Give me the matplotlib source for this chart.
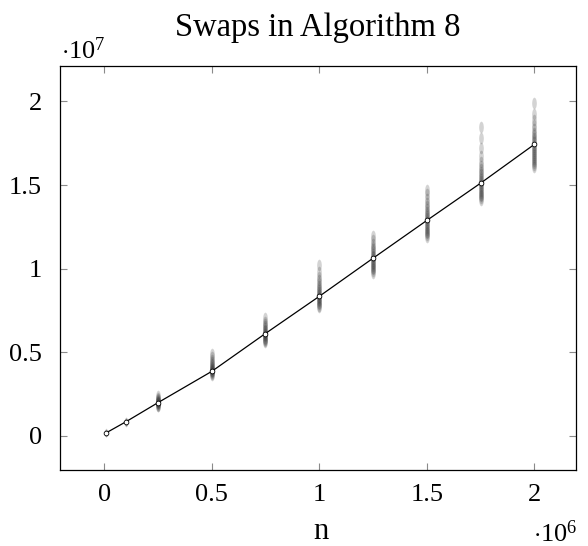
import matplotlib
matplotlib.use("Agg")
import matplotlib.pyplot as plt
from matplotlib.path import Path
import numpy as np

# problem sizes (units of 1e6) and mean swap counts (units of 1e7)
n_values = [0.01, 0.1, 0.25, 0.5, 0.75, 1.0, 1.25, 1.5, 1.75, 2.0]
mean_swaps = [0.018, 0.083, 0.198, 0.385, 0.612, 0.834, 1.062, 1.288, 1.511, 1.743]

# individual runs per problem size (units of 1e7)
runs_0 = [0.016, 0.017, 0.018, 0.019, 0.020]
runs_1 = [0.077, 0.079, 0.081, 0.083, 0.085, 0.087, 0.090]
runs_2 = [0.176, 0.181, 0.186, 0.190, 0.194, 0.197, 0.201, 0.205, 0.209,
          0.214, 0.220, 0.228, 0.237]
runs_3 = [0.365, 0.371, 0.376, 0.381, 0.385, 0.390, 0.395, 0.401, 0.407,
          0.414, 0.422, 0.431, 0.442, 0.455, 0.470, 0.488]
runs_4 = [0.560, 0.567, 0.574, 0.581, 0.588, 0.595, 0.602, 0.609, 0.617,
          0.625, 0.634, 0.644, 0.655, 0.668, 0.683, 0.702]
runs_5 = [0.768, 0.777, 0.786, 0.795, 0.804, 0.813, 0.822, 0.831, 0.840,
          0.850, 0.860, 0.871, 0.883, 0.896, 0.912, 0.930, 0.952, 0.982, 1.020]
runs_6 = [0.975, 0.985, 0.995, 1.005, 1.015, 1.025, 1.035, 1.045, 1.056,
          1.067, 1.078, 1.090, 1.103, 1.117, 1.132, 1.150, 1.172, 1.195]
runs_7 = [1.190, 1.200, 1.211, 1.222, 1.233, 1.244, 1.255, 1.266, 1.277,
          1.289, 1.301, 1.313, 1.326, 1.340, 1.355, 1.372, 1.392, 1.415, 1.445, 1.470]
runs_8 = [1.410, 1.421, 1.432, 1.443, 1.454, 1.465, 1.476, 1.488, 1.500,
          1.512, 1.524, 1.537, 1.550, 1.564, 1.579, 1.596, 1.615, 1.640,
          1.675, 1.720, 1.780, 1.850]
runs_9 = [1.610, 1.622, 1.634, 1.646, 1.658, 1.670, 1.682, 1.694, 1.706,
          1.718, 1.730, 1.742, 1.755, 1.768, 1.782, 1.797, 1.814, 1.834,
          1.858, 1.888, 1.925, 1.990]
all_runs = [runs_0, runs_1, runs_2, runs_3, runs_4,
            runs_5, runs_6, runs_7, runs_8, runs_9]

x_ticks = [0, 0.5, 1, 1.5, 2]
x_tick_labels = ["0", "0.5", "1", "1.5", "2"]
y_ticks = [0, 0.5, 1, 1.5, 2]
y_tick_labels = ["0", "0.5", "1", "1.5", "2"]

serif = "Liberation Serif"
plt.rcParams["font.family"] = [serif, "DejaVu Serif"]
plt.rcParams["mathtext.fontset"] = "custom"
plt.rcParams["mathtext.rm"] = serif
plt.rcParams["mathtext.it"] = serif + ":italic"

fig = plt.figure(figsize=(5.88, 5.46), dpi=100)
ax = fig.add_axes([0.102, 0.139, 0.878, 0.741])

# tall soft marker so overlapping runs blend into a vertical smear
ell = Path.unit_circle()
verts = ell.vertices * np.array([0.4, 1.0])
run_marker = Path(verts, ell.codes)

for xv, runs in zip(n_values[2:], all_runs[2:]):
    ax.scatter([xv] * len(runs), runs, marker=run_marker, s=70,
               color="#3a3a3a", alpha=0.22, linewidths=0, zorder=2)
for xv, runs in zip(n_values[:2], all_runs[:2]):
    ax.scatter([xv] * len(runs), runs, marker=run_marker, s=30,
               color="#3a3a3a", alpha=0.15, linewidths=0, zorder=2)

ax.plot(n_values, mean_swaps, color="black", lw=0.9, zorder=3,
        marker="o", ms=3.4, mfc="white", mec="black", mew=0.6)

ax.set_xlim(-0.205, 2.195)
ax.set_ylim(-0.205, 2.215)
ax.set_xticks(x_ticks)
ax.set_xticklabels(x_tick_labels)
ax.set_yticks(y_ticks)
ax.set_yticklabels(y_tick_labels)
ax.tick_params(direction="in", length=5, width=0.8, color="#8a8a8a",
               top=True, right=True, labelsize=19, pad=10)
ax.tick_params(axis="y", pad=13)
for sp in ax.spines.values():
    sp.set_linewidth(0.9)

ax.set_title("Swaps in Algorithm 8", fontsize=23.5, pad=21)
fig.text(0.546, 0.012, "n", fontsize=22, ha="center", va="baseline")
fig.text(0.104, 0.907, r"$\cdot10^{7}$", fontsize=19, ha="left", va="center")
fig.text(0.982, 0.008, r"$\cdot10^{6}$", fontsize=19, ha="right", va="baseline")

fig.savefig("out.png", dpi=100)
